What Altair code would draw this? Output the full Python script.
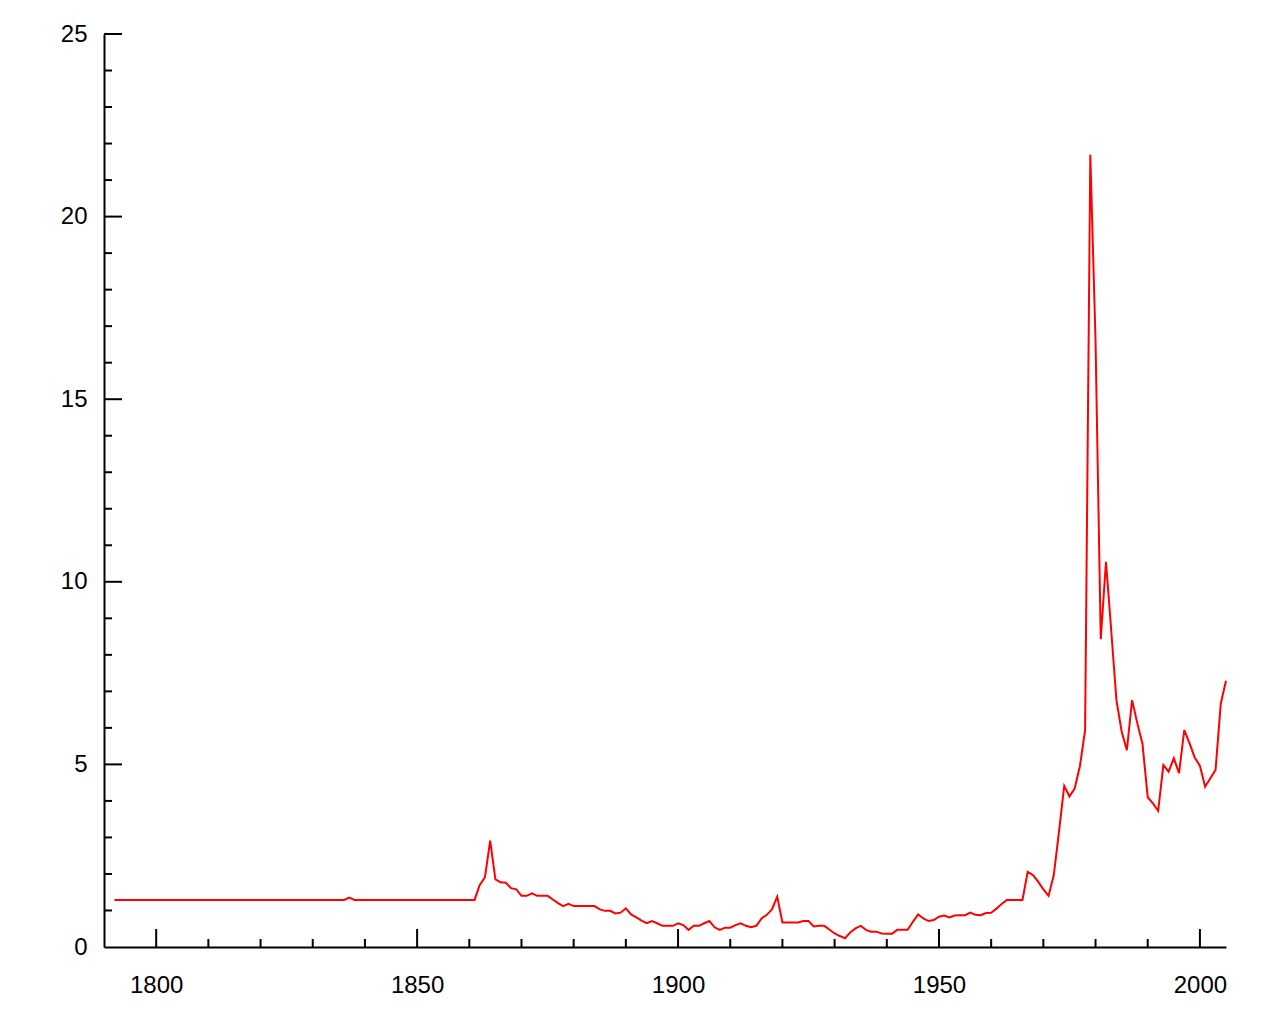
import altair as alt
import pandas as pd

# ---- data (yearly values) ----
first_year = 1792
v_1790s = [1.29, 1.29, 1.29, 1.29, 1.29, 1.29, 1.29, 1.29]  # 1792-1799
v_1800s = [1.29, 1.29, 1.29, 1.29, 1.29, 1.29, 1.29, 1.29, 1.29, 1.29]
v_1810s = [1.29, 1.29, 1.29, 1.29, 1.29, 1.29, 1.29, 1.29, 1.29, 1.29]
v_1820s = [1.29, 1.29, 1.29, 1.29, 1.29, 1.29, 1.29, 1.29, 1.29, 1.29]
v_1830s = [1.29, 1.29, 1.29, 1.29, 1.29, 1.29, 1.29, 1.35, 1.29, 1.29]
v_1840s = [1.29, 1.29, 1.29, 1.29, 1.29, 1.29, 1.29, 1.29, 1.29, 1.29]
v_1850s = [1.29, 1.29, 1.29, 1.29, 1.29, 1.29, 1.29, 1.29, 1.29, 1.29]
v_1860s = [1.29, 1.29, 1.70, 1.91, 2.91, 1.85, 1.77, 1.76, 1.61, 1.58]
v_1870s = [1.40, 1.40, 1.47, 1.40, 1.40, 1.40, 1.30, 1.20, 1.12, 1.18]
v_1880s = [1.12, 1.12, 1.12, 1.12, 1.12, 1.03, 0.99, 0.99, 0.92, 0.94]
v_1890s = [1.06, 0.89, 0.81, 0.72, 0.65, 0.71, 0.65, 0.58, 0.58, 0.58]
v_1900s = [0.65, 0.60, 0.47, 0.58, 0.58, 0.65, 0.71, 0.54, 0.47, 0.53]
v_1910s = [0.53, 0.60, 0.65, 0.58, 0.54, 0.58, 0.78, 0.88, 1.03, 1.38]
v_1920s = [0.67, 0.67, 0.67, 0.67, 0.71, 0.71, 0.56, 0.58, 0.58, 0.48]
v_1930s = [0.37, 0.30, 0.24, 0.40, 0.51, 0.58, 0.47, 0.42, 0.42, 0.37]
v_1940s = [0.36, 0.36, 0.47, 0.47, 0.47, 0.69, 0.89, 0.78, 0.71, 0.74]
v_1950s = [0.83, 0.86, 0.81, 0.86, 0.87, 0.87, 0.94, 0.88, 0.87, 0.93]
v_1960s = [0.94, 1.05, 1.18, 1.29, 1.29, 1.29, 1.29, 2.06, 1.97, 1.79]
v_1970s = [1.58, 1.40, 1.97, 3.16, 4.41, 4.12, 4.34, 4.95, 5.94, 21.69]
v_1980s = [16.60, 8.43, 10.55, 8.68, 6.76, 5.90, 5.39, 6.76, 6.13, 5.56]
v_1990s = [4.10, 3.93, 3.73, 4.98, 4.80, 5.17, 4.76, 5.94, 5.58, 5.19]
v_2000s = [4.96, 4.39, 4.62, 4.85, 6.67, 7.29]

x_label_values = [1800, 1850, 1900, 1950, 2000]
x_minor_values = [1810, 1820, 1830, 1840, 1860, 1870, 1880, 1890, 1910, 1920,
                  1930, 1940, 1960, 1970, 1980, 1990]
y_label_values = [0, 5, 10, 15, 20, 25]
y_major_values = [5, 10, 15, 20, 25]
y_minor_values = [1, 2, 3, 4, 6, 7, 8, 9, 11, 12, 13, 14, 16, 17, 18, 19,
                  21, 22, 23, 24]

values = (v_1790s + v_1800s + v_1810s + v_1820s + v_1830s + v_1840s + v_1850s
          + v_1860s + v_1870s + v_1880s + v_1890s + v_1900s + v_1910s
          + v_1920s + v_1930s + v_1940s + v_1950s + v_1960s + v_1970s
          + v_1980s + v_1990s + v_2000s)
years = list(range(first_year, first_year + len(values)))

df = pd.DataFrame({"year": years, "value": values})

W, H = 1122, 913
FONT = "Liberation Sans"
FS = 24

xscale = alt.Scale(domain=[1790, 2005], nice=False, zero=False)
yscale = alt.Scale(domain=[0, 25], nice=False, zero=True)

xaxis = alt.Axis(values=x_label_values, format="d", title=None,
                 ticks=False, tickSize=0, grid=False,
                 labelFont=FONT, labelFontSize=FS, labelColor="black",
                 labelPadding=26, labelFlush=False,
                 domainColor="black", domainWidth=2)
yaxis = alt.Axis(values=y_label_values, format="d", title=None,
                 ticks=False, tickSize=0, grid=False,
                 labelFont=FONT, labelFontSize=FS, labelColor="black",
                 labelPadding=17, labelFlush=False,
                 domainColor="black", domainWidth=2)

line = alt.Chart(df).mark_line(color="#ff0000", strokeWidth=2).encode(
    x=alt.X("year:Q", scale=xscale, axis=xaxis),
    y=alt.Y("value:Q", scale=yscale, axis=yaxis),
)

xmaj = alt.Chart(pd.DataFrame({"year": x_label_values})).mark_rule(
    color="black", strokeWidth=2).encode(
    x=alt.X("year:Q", scale=xscale, axis=xaxis),
    y=alt.value(H), y2=alt.value(H - 18))

xmin = alt.Chart(pd.DataFrame({"year": x_minor_values})).mark_rule(
    color="black", strokeWidth=2).encode(
    x=alt.X("year:Q", scale=xscale, axis=xaxis),
    y=alt.value(H), y2=alt.value(H - 8))

ymaj = alt.Chart(pd.DataFrame({"value": y_major_values})).mark_rule(
    color="black", strokeWidth=2).encode(
    y=alt.Y("value:Q", scale=yscale, axis=yaxis),
    x=alt.value(0), x2=alt.value(18))

ymin = alt.Chart(pd.DataFrame({"value": y_minor_values})).mark_rule(
    color="black", strokeWidth=2).encode(
    y=alt.Y("value:Q", scale=yscale, axis=yaxis),
    x=alt.value(0), x2=alt.value(8))

chart = alt.layer(line, xmin, xmaj, ymin, ymaj).properties(
    width=W, height=H,
    autosize=alt.AutoSizeParams(type="none"),
    padding={"left": 96, "top": 26, "right": 40, "bottom": 70},
    background="white",
).configure_view(stroke=None)

chart.save("out.html", embed_options={"renderer": "svg", "actions": False})
